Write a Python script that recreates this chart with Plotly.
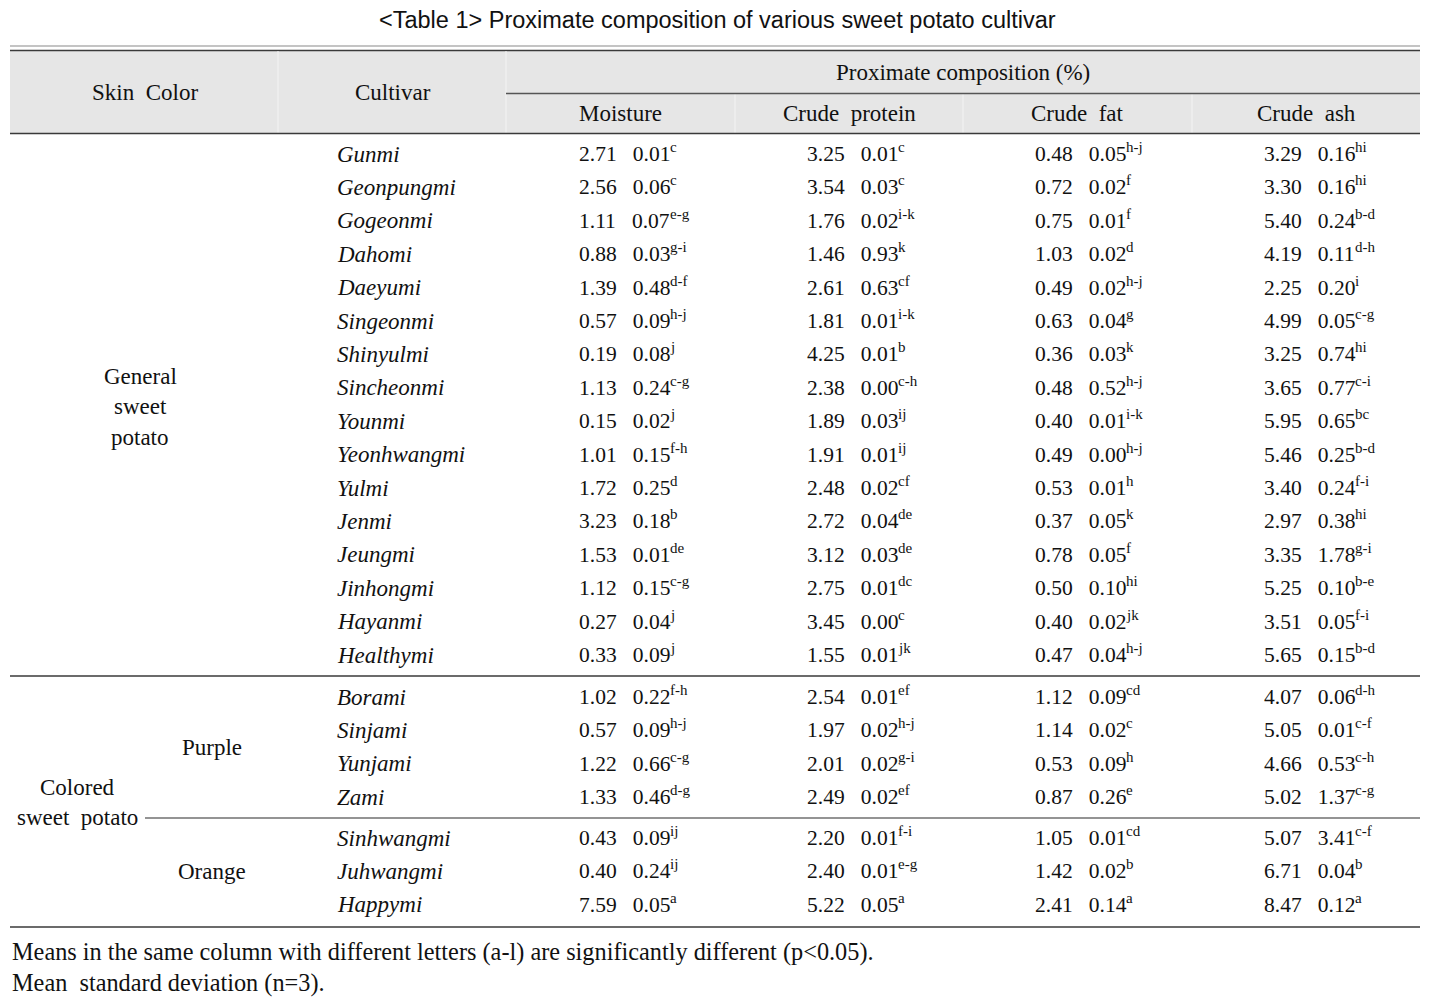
import plotly.graph_objects as go

# ---------------- data ----------------
title_text = "<Table 1> Proximate composition of various sweet potato cultivar"
header_skin = "Skin Color"
header_cultivar = "Cultivar"
header_group = "Proximate composition (%)"
measure_names = ["Moisture", "Crude protein", "Crude fat", "Crude ash"]

general_label = ["General", "sweet", "potato"]
colored_label = ["Colored", "sweet potato"]
purple_label = "Purple"
orange_label = "Orange"

general_cultivars = ["Gunmi", "Geonpungmi", "Gogeonmi", "Dahomi", "Daeyumi", "Singeonmi",
                     "Shinyulmi", "Sincheonmi", "Younmi", "Yeonhwangmi", "Yulmi", "Jenmi",
                     "Jeungmi", "Jinhongmi", "Hayanmi", "Healthymi"]
purple_cultivars = ["Borami", "Sinjami", "Yunjami", "Zami"]
orange_cultivars = ["Sinhwangmi", "Juhwangmi", "Happymi"]

moisture_mean = ["2.71", "2.56", "1.11", "0.88", "1.39", "0.57", "0.19", "1.13", "0.15", "1.01",
                 "1.72", "3.23", "1.53", "1.12", "0.27", "0.33",
                 "1.02", "0.57", "1.22", "1.33", "0.43", "0.40", "7.59"]
moisture_sd = ["0.01", "0.06", "0.07", "0.03", "0.48", "0.09", "0.08", "0.24", "0.02", "0.15",
               "0.25", "0.18", "0.01", "0.15", "0.04", "0.09",
               "0.22", "0.09", "0.66", "0.46", "0.09", "0.24", "0.05"]
moisture_sig = ["c", "c", "e-g", "g-i", "d-f", "h-j", "j", "c-g", "j", "f-h",
                "d", "b", "de", "c-g", "j", "j",
                "f-h", "h-j", "c-g", "d-g", "ij", "ij", "a"]

protein_mean = ["3.25", "3.54", "1.76", "1.46", "2.61", "1.81", "4.25", "2.38", "1.89", "1.91",
                "2.48", "2.72", "3.12", "2.75", "3.45", "1.55",
                "2.54", "1.97", "2.01", "2.49", "2.20", "2.40", "5.22"]
protein_sd = ["0.01", "0.03", "0.02", "0.93", "0.63", "0.01", "0.01", "0.00", "0.03", "0.01",
              "0.02", "0.04", "0.03", "0.01", "0.00", "0.01",
              "0.01", "0.02", "0.02", "0.02", "0.01", "0.01", "0.05"]
protein_sig = ["c", "c", "i-k", "k", "cf", "i-k", "b", "c-h", "ij", "ij",
               "cf", "de", "de", "dc", "c", "jk",
               "ef", "h-j", "g-i", "ef", "f-i", "e-g", "a"]

fat_mean = ["0.48", "0.72", "0.75", "1.03", "0.49", "0.63", "0.36", "0.48", "0.40", "0.49",
            "0.53", "0.37", "0.78", "0.50", "0.40", "0.47",
            "1.12", "1.14", "0.53", "0.87", "1.05", "1.42", "2.41"]
fat_sd = ["0.05", "0.02", "0.01", "0.02", "0.02", "0.04", "0.03", "0.52", "0.01", "0.00",
          "0.01", "0.05", "0.05", "0.10", "0.02", "0.04",
          "0.09", "0.02", "0.09", "0.26", "0.01", "0.02", "0.14"]
fat_sig = ["h-j", "f", "f", "d", "h-j", "g", "k", "h-j", "i-k", "h-j",
           "h", "k", "f", "hi", "jk", "h-j",
           "cd", "c", "h", "e", "cd", "b", "a"]

ash_mean = ["3.29", "3.30", "5.40", "4.19", "2.25", "4.99", "3.25", "3.65", "5.95", "5.46",
            "3.40", "2.97", "3.35", "5.25", "3.51", "5.65",
            "4.07", "5.05", "4.66", "5.02", "5.07", "6.71", "8.47"]
ash_sd = ["0.16", "0.16", "0.24", "0.11", "0.20", "0.05", "0.74", "0.77", "0.65", "0.25",
          "0.24", "0.38", "1.78", "0.10", "0.05", "0.15",
          "0.06", "0.01", "0.53", "1.37", "3.41", "0.04", "0.12"]
ash_sig = ["hi", "hi", "b-d", "d-h", "i", "c-g", "hi", "c-i", "bc", "b-d",
           "f-i", "hi", "g-i", "b-e", "f-i", "b-d",
           "d-h", "c-f", "c-h", "c-g", "c-f", "b", "a"]

footnotes = ["Means in the same column with different letters (a-l) are significantly different (p<0.05).",
             "Mean  standard deviation (n=3)."]

# ---------------- layout constants ----------------
W, H = 1439, 1002
LEFT, RIGHT = 10, 1420
SERIF = "Liberation Serif, Times New Roman, serif"
SANS = "Liberation Sans, Arial, sans-serif"
FS_TXT = 23      # word labels
FS_NUM = 21.5    # numeric cells
FS_SUP = 15      # significance letters
INK = "#111111"

def esc(s):
    return s.replace("&", "&amp;").replace("<", "&lt;").replace(">", "&gt;")

fig = go.Figure()
fig.update_layout(
    width=W, height=H, margin=dict(l=0, r=0, t=0, b=0),
    paper_bgcolor="white", plot_bgcolor="white", showlegend=False,
    xaxis=dict(range=[0, W], visible=False, fixedrange=True),
    yaxis=dict(range=[H, 0], visible=False, fixedrange=True),
)

shapes = []
def hline(x0, x1, y, color="#444444", width=1.5):
    shapes.append(dict(type="line", xref="x", yref="y", x0=x0, x1=x1, y0=y, y1=y,
                       line=dict(color=color, width=width)))
def vline(x, y0, y1, color="#f4f4f4", width=1):
    shapes.append(dict(type="line", xref="x", yref="y", x0=x, x1=x, y0=y0, y1=y1,
                       line=dict(color=color, width=width)))

# header background
shapes.append(dict(type="rect", xref="x", yref="y", x0=LEFT, x1=RIGHT, y0=50.5, y1=133.5,
                   fillcolor="#e6e6e6", line=dict(width=0), layer="below"))
hline(LEFT, RIGHT, 46, color="#8a8a8a", width=1.2)
hline(LEFT, RIGHT, 50.5, color="#3a3a3a", width=1.5)
vline(278, 51, 133)
vline(506, 51, 133)
col_x = [506, 735, 963, 1192, RIGHT]
for cx in col_x[1:-1]:
    vline(cx, 94, 133)
hline(506, RIGHT, 93.5, color="#555555", width=1.5)
hline(LEFT, RIGHT, 133.5, color="#3a3a3a", width=1.5)

ROW0, STEP = 154, 33.4
general_y = [ROW0 + i * STEP for i in range(len(general_cultivars))]
purple_y = [697 + i * STEP for i in range(len(purple_cultivars))]
orange_y = [838 + i * STEP for i in range(len(orange_cultivars))]
hline(LEFT, RIGHT, 676, color="#3a3a3a", width=1.5)
hline(145, RIGHT, 818, color="#707070", width=1.5)
hline(LEFT, RIGHT, 927, color="#3a3a3a", width=1.5)

ann = []
def text(x, y, s, anchor="center", size=FS_TXT, font=SERIF, italic=False):
    ann.append(dict(x=x, y=y, xref="x", yref="y", text=s, showarrow=False,
                    xanchor=anchor, yanchor="middle",
                    font=dict(family=font, size=size, color=INK,
                              style="italic" if italic else "normal")))

text(717, 20, esc(title_text), size=23.5, font=SANS)
text(145, 92, header_skin.replace(" ", "&nbsp;&nbsp;"))
text(393, 92, header_cultivar)
text(963, 72, header_group)
for i, name in enumerate(measure_names):
    text((col_x[i] + col_x[i + 1]) / 2, 113, name.replace(" ", "&nbsp;&nbsp;"))

for j, s in enumerate(general_label):
    text(140, 376 + j * 30.5, s)
for j, s in enumerate(colored_label):
    text(77, 787 + j * 30.5, s.replace(" ", "&nbsp;&nbsp;"))
text(212, (purple_y[0] + purple_y[-1]) / 2, purple_label)
text(212, (orange_y[0] + orange_y[-1]) / 2, orange_label)

all_cultivars = general_cultivars + purple_cultivars + orange_cultivars
all_y = general_y + purple_y + orange_y
value_x = [577, 805, 1033, 1262]
cols = [(moisture_mean, moisture_sd, moisture_sig),
        (protein_mean, protein_sd, protein_sig),
        (fat_mean, fat_sd, fat_sig),
        (ash_mean, ash_sd, ash_sig)]
GAP = "&nbsp;&nbsp;&nbsp;"
# width of "d.dd   d.dd" in a Times-metric font: 6 digits*0.5 + 2 dots*0.25 + 3 spaces*0.25 em
NUM_W = (6 * 0.5 + 2 * 0.25 + 3 * 0.25) * FS_NUM
for r, (name, y) in enumerate(zip(all_cultivars, all_y)):
    text(335, y, name, anchor="left", italic=True)
    for c, (m, sd, sig) in enumerate(cols):
        text(value_x[c], y, f"{m[r]}{GAP}{sd[r]}", anchor="left", size=FS_NUM)
        text(value_x[c] + NUM_W, y - 7, sig[r], anchor="left", size=FS_SUP)

text(10, 952, esc(footnotes[0]), anchor="left", size=24.3)
text(10, 983, esc(footnotes[1]).replace("  ", "&nbsp;&nbsp;"), anchor="left", size=24.3)

fig.update_layout(shapes=shapes, annotations=ann)
fig.write_html("out.html", post_script="document.body.style.margin='0px';",
               config={"displayModeBar": False})
